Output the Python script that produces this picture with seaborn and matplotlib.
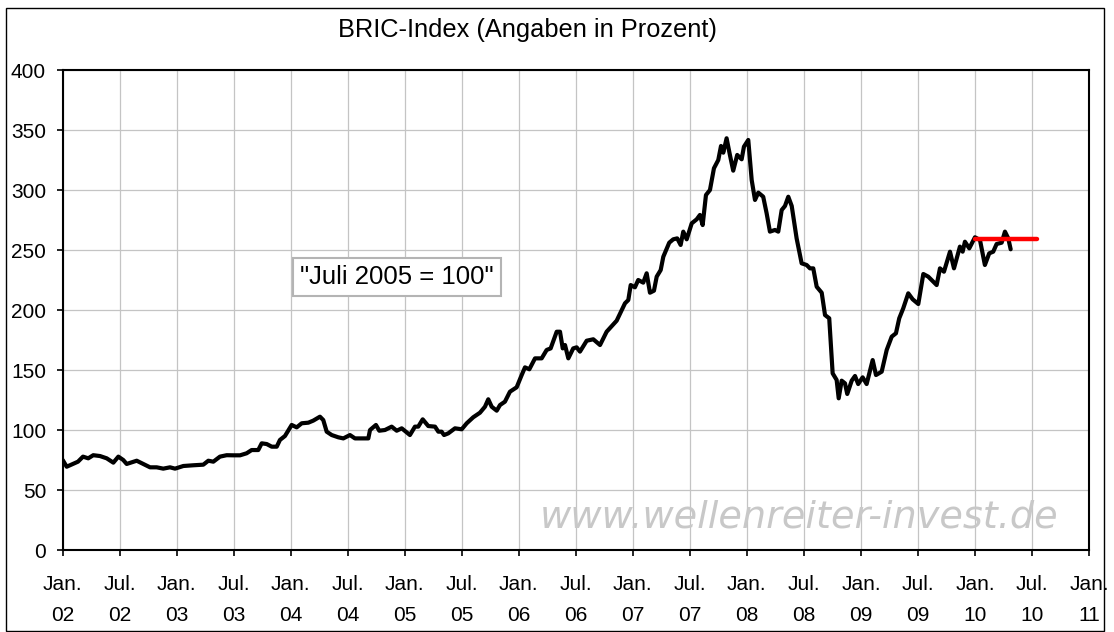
import matplotlib
matplotlib.use("Agg")
import matplotlib.pyplot as plt
from matplotlib.patches import Rectangle
import pandas as pd
import seaborn as sns

# ---- data (decimal year, index value; July 2005 = 100) ----
years = [
    2002.000, 2002.035, 2002.090, 2002.134, 2002.178, 2002.224, 2002.268, 2002.327,
    2002.386, 2002.444, 2002.488, 2002.531, 2002.561, 2002.649, 2002.707, 2002.766,
    2002.824, 2002.882, 2002.941, 2002.985, 2003.058, 2003.145, 2003.233, 2003.277,
    2003.321, 2003.379, 2003.438, 2003.496, 2003.555, 2003.613, 2003.657, 2003.715,
    2003.745, 2003.789, 2003.833, 2003.877, 2003.905, 2003.949, 2004.008, 2004.052,
    2004.096, 2004.154, 2004.197, 2004.256, 2004.285, 2004.315, 2004.359, 2004.417,
    2004.461, 2004.519, 2004.563, 2004.622, 2004.680, 2004.695, 2004.747, 2004.776,
    2004.826, 2004.885, 2004.929, 2004.973, 2005.045, 2005.089, 2005.118, 2005.157,
    2005.206, 2005.265, 2005.294, 2005.323, 2005.344, 2005.381, 2005.440, 2005.499,
    2005.543, 2005.600, 2005.659, 2005.703, 2005.732, 2005.762, 2005.806, 2005.835,
    2005.878, 2005.922, 2005.981, 2006.025, 2006.054, 2006.092, 2006.142, 2006.200,
    2006.244, 2006.279, 2006.332, 2006.361, 2006.385, 2006.405, 2006.434, 2006.477,
    2006.507, 2006.536, 2006.595, 2006.653, 2006.712, 2006.770, 2006.858, 2006.931,
    2006.960, 2006.981, 2007.018, 2007.047, 2007.091, 2007.121, 2007.150, 2007.185,
    2007.209, 2007.244, 2007.267, 2007.319, 2007.354, 2007.389, 2007.419, 2007.442,
    2007.472, 2007.516, 2007.560, 2007.588, 2007.612, 2007.641, 2007.676, 2007.711,
    2007.749, 2007.773, 2007.793, 2007.822, 2007.851, 2007.880, 2007.915, 2007.954,
    2007.974, 2008.012, 2008.042, 2008.071, 2008.100, 2008.143, 2008.173, 2008.202,
    2008.246, 2008.275, 2008.305, 2008.334, 2008.363, 2008.393, 2008.436, 2008.480,
    2008.524, 2008.553, 2008.582, 2008.612, 2008.656, 2008.685, 2008.722, 2008.752,
    2008.787, 2008.805, 2008.831, 2008.860, 2008.880, 2008.919, 2008.948, 2008.976,
    2009.015, 2009.050, 2009.103, 2009.132, 2009.182, 2009.226, 2009.270, 2009.307,
    2009.336, 2009.371, 2009.415, 2009.454, 2009.503, 2009.547, 2009.590, 2009.664,
    2009.693, 2009.728, 2009.781, 2009.816, 2009.868, 2009.892, 2009.912, 2009.950,
    2010.000, 2010.044, 2010.087, 2010.125, 2010.160, 2010.190, 2010.234, 2010.263,
    2010.292, 2010.313,
]
values = [
    75.0, 69.4, 71.7, 73.6, 77.8, 76.4, 79.0, 78.3,
    76.4, 72.8, 77.8, 75.0, 71.7, 74.4, 71.7, 68.9,
    68.9, 67.8, 68.9, 67.8, 70.0, 70.6, 71.1, 74.4,
    73.6, 77.8, 79.0, 78.9, 78.9, 80.6, 83.3, 83.3,
    88.9, 88.3, 86.1, 86.1, 91.7, 95.0, 104.2, 102.2,
    105.6, 106.1, 107.8, 111.1, 108.3, 98.6, 95.8, 93.9,
    93.0, 95.8, 93.0, 93.0, 93.0, 100.0, 104.2, 99.4,
    100.0, 102.8, 99.4, 101.4, 95.8, 102.8, 102.8, 108.9,
    103.3, 102.8, 98.6, 98.6, 95.8, 97.2, 101.4, 100.6,
    105.6, 110.6, 114.4, 119.4, 125.6, 119.4, 116.1, 120.8,
    123.6, 131.9, 135.6, 145.8, 152.2, 150.6, 159.7, 159.7,
    166.7, 168.0, 181.9, 181.9, 168.0, 170.8, 159.7, 168.0,
    168.9, 165.3, 174.4, 175.6, 170.8, 181.9, 191.1, 205.6,
    208.3, 220.8, 218.9, 225.0, 222.8, 230.6, 214.4, 216.1,
    227.8, 233.3, 244.4, 256.1, 258.9, 259.7, 254.2, 265.3,
    258.9, 272.2, 275.6, 279.2, 270.8, 295.8, 300.0, 318.1,
    325.0, 336.7, 331.1, 343.1, 329.2, 316.1, 329.2, 325.6,
    336.1, 341.7, 308.3, 291.7, 297.8, 294.4, 280.6, 265.3,
    266.7, 265.3, 283.3, 286.7, 294.4, 286.7, 259.7, 238.9,
    237.5, 234.7, 234.7, 219.4, 214.4, 195.8, 193.1, 147.2,
    141.7, 126.4, 141.1, 138.9, 130.0, 141.1, 145.0, 138.3,
    143.9, 138.3, 158.3, 145.8, 148.6, 166.7, 177.8, 180.6,
    193.1, 201.4, 213.9, 208.9, 205.0, 230.0, 227.8, 220.8,
    234.7, 231.9, 248.6, 234.7, 252.8, 248.6, 256.9, 251.4,
    260.6, 258.3, 237.5, 247.2, 248.6, 255.0, 256.1, 265.3,
    259.7, 250.6,
]
level_years = [2010.0, 2010.54]
level_values = [259, 259]

xtick_positions = [2002.0, 2002.5, 2003.0, 2003.5, 2004.0, 2004.5, 2005.0, 2005.5,
                   2006.0, 2006.5, 2007.0, 2007.5, 2008.0, 2008.5, 2009.0, 2009.5,
                   2010.0, 2010.5, 2011.0]
xtick_labels = ["Jan.\n02", "Jul.\n02", "Jan.\n03", "Jul.\n03", "Jan.\n04", "Jul.\n04",
                "Jan.\n05", "Jul.\n05", "Jan.\n06", "Jul.\n06", "Jan.\n07", "Jul.\n07",
                "Jan.\n08", "Jul.\n08", "Jan.\n09", "Jul.\n09", "Jan.\n10", "Jul.\n10",
                "Jan.\n11"]
ytick_values = [0, 50, 100, 150, 200, 250, 300, 350, 400]

title = "BRIC-Index (Angaben in Prozent)"
note = '"Juli 2005 = 100"'
watermark = "www.wellenreiter-invest.de"

# ---- style ----
sns.set_theme(style="white")
plt.rcParams['font.family'] = ['Liberation Sans', 'DejaVu Sans']

W, H = 1114, 632
fig = plt.figure(figsize=(W / 100, H / 100), dpi=100)
fig.patch.set_facecolor('white')
ax = fig.add_axes([62.7 / W, 1 - 550 / H, (1089 - 62.7) / W, 480 / H])
ax.set_facecolor('white')

df = pd.DataFrame({'Jahr': years, 'Index': values})
sns.lineplot(data=df, x='Jahr', y='Index', color='black', linewidth=3.0,
             ax=ax, zorder=3)
sns.lineplot(x=level_years, y=level_values, color='#ff0000', linewidth=3.2,
             ax=ax, zorder=4)

ax.set_xlim(2002, 2011)
ax.set_ylim(0, 400)
ax.set_xticks(xtick_positions)
ax.set_xticklabels(xtick_labels)
ax.set_yticks(ytick_values)
ax.set_xlabel('')
ax.set_ylabel('')

ax.grid(True, color='#c4c4c4', linewidth=0.9)
ax.set_axisbelow(True)
for s in ax.spines.values():
    s.set_visible(True)
    s.set_color('black')
    s.set_linewidth(1.5)

ax.tick_params(axis='both', direction='out', length=4, width=1.2, color='black',
               labelsize=15, labelcolor='black', bottom=True, left=True)
ax.tick_params(axis='x', pad=14)
ax.tick_params(axis='y', pad=8)
for t in ax.get_xticklabels():
    t.set_linespacing(1.8)

ax.text(2004.93, 227.5, note, ha='center', va='center', fontsize=18.5, color='black',
        zorder=5,
        bbox=dict(boxstyle='square,pad=0.28', fc='white', ec='#b4b4b4', lw=1.5))

fig.text(528 / W, 1 - 36.7 / H, title, ha='center', va='baseline', fontsize=18.3,
         color='black')

fig.text(799 / W, 1 - 527 / H, watermark, ha='center', va='baseline', fontsize=27.5,
         family=['DejaVu Sans'], style='oblique', color='#c8c8c8')

fig.add_artist(Rectangle((6 / W, 1.5 / H), (1104 - 6) / W, (624 - 1.5) / H,
                         transform=fig.transFigure, fill=False,
                         edgecolor='black', linewidth=1.0))

fig.savefig('out.png', dpi=100, facecolor='white')
